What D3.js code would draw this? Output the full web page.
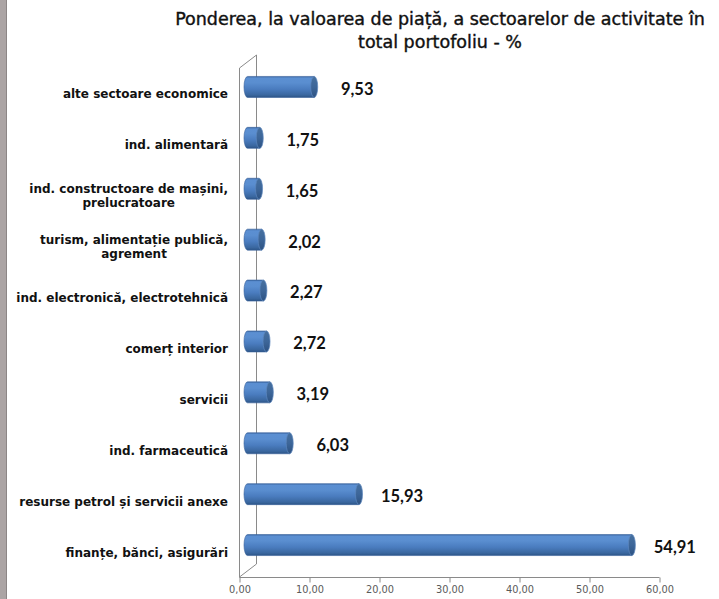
<!DOCTYPE html>
<html>
<head>
<meta charset="utf-8">
<script src="https://cdn.jsdelivr.net/npm/d3@7/dist/d3.min.js"></script>
<style>
  html, body { margin: 0; padding: 0; background: #fff; }
  svg { display: block; }
</style>
</head>
<body>
<svg id="chart" width="719" height="599"></svg>
<script>
// ---- data ----
const titleLines = ["Ponderea, la valoarea de piață, a sectoarelor de activitate în", "total portofoliu - %"];
const categories = [
  "alte sectoare economice",
  "ind. alimentară",
  "ind. constructoare de mașini,\nprelucratoare",
  "turism, alimentație publică,\nagrement",
  "ind. electronică, electrotehnică",
  "comerț interior",
  "servicii",
  "ind. farmaceutică",
  "resurse petrol și servicii anexe",
  "finanțe, bănci, asigurări"
];
const values = [9.53, 1.75, 1.65, 2.02, 2.27, 2.72, 3.19, 6.03, 15.93, 54.91];
const xTicks = [0, 10, 20, 30, 40, 50, 60];

// ---- layout ----
(function () {
const svg = d3.select("#chart");
const W = 719, H = 599;
const depthX = 17, depthY = -13;
const x = d3.scaleLinear().domain([0, 60]).range([239, 659]);
const y = d3.scaleBand().domain(categories).range([68, 577]).padding(0);
const bw = y.bandwidth();
const barH = 21;
const fmt = v => d3.format(".2f")(v).replace(".", ",");

// left gray strip
svg.append("rect").attr("x", 0).attr("y", 0).attr("width", 6).attr("height", H).attr("fill", "#aba4a4");
svg.append("rect").attr("x", 6).attr("y", 0).attr("width", 1).attr("height", H).attr("fill", "#8c8686");

// title
svg.append("text")
  .attr("x", 440).attr("y", 25)
  .attr("text-anchor", "middle")
  .style("font-family", "'DejaVu Sans', sans-serif")
  .style("font-size", "17.5px")
  .attr("fill", "#111")
  .attr("stroke", "#111").attr("stroke-width", 0.4)
  .selectAll("tspan").data(titleLines).join("tspan")
  .attr("x", 440).attr("dy", (d, i) => i === 0 ? 0 : 23)
  .text(d => d);

// gradient
const defs = svg.append("defs");
const grad = defs.append("linearGradient").attr("id", "cyl").attr("x1", 0).attr("y1", 0).attr("x2", 0).attr("y2", 1);
[[0, "#3f6ba6"], [0.08, "#5b8fd2"], [0.3, "#5a8ed0"], [0.6, "#4a7cbf"], [0.88, "#3a679f"], [1, "#2c5486"]]
  .forEach(([o, c]) => grad.append("stop").attr("offset", o).attr("stop-color", c));
const capGrad = defs.append("linearGradient").attr("id", "cap").attr("x1", 0).attr("y1", 0).attr("x2", 0).attr("y2", 1);
[[0, "#46709f"], [0.5, "#3d6699"], [1, "#2d5282"]]
  .forEach(([o, c]) => capGrad.append("stop").attr("offset", o).attr("stop-color", c));

// walls / axes
const axisColor = "#8a8a8a";
const x0 = x(0);
const yTop = y.range()[0], yBot = y.range()[1];
const walls = svg.append("g").attr("stroke", axisColor).attr("stroke-width", 1).attr("fill", "none");
walls.append("line").attr("x1", x0 + depthX + 0.5).attr("y1", yTop + depthY).attr("x2", x0 + depthX + 0.5).attr("y2", yBot + depthY);
walls.append("line").attr("x1", x0 + 0.5).attr("y1", yTop).attr("x2", x0 + depthX + 0.5).attr("y2", yTop + depthY);
walls.append("line").attr("x1", x0 + 0.5).attr("y1", yBot).attr("x2", x0 + depthX + 0.5).attr("y2", yBot + depthY);
walls.append("line").attr("x1", x0 + 0.5).attr("y1", yTop).attr("x2", x0 + 0.5).attr("y2", yBot + 0.5);

// x axis
const xAxis = d3.axisBottom(x).tickValues(xTicks).tickFormat(fmt).tickSize(5).tickPadding(4);
const gx = svg.append("g").attr("transform", `translate(0.5,${yBot + 0.5})`).call(xAxis);
gx.select(".domain").attr("stroke", axisColor).attr("d", `M${x(0)},0H${x(60)}`);
gx.selectAll(".tick line").attr("stroke", axisColor);
gx.selectAll(".tick text")
  .style("font-family", "'DejaVu Sans', sans-serif")
  .style("font-size", "9.8px")
  .attr("fill", "#5a5a5a");

// bars
const bars = svg.append("g");
categories.forEach((c, i) => {
  const v = values[i];
  const cy = y(c) + bw / 2 + depthY / 2;
  const xs = x(0) + depthX / 2;
  const xe = x(v) + depthX / 2;
  const rx = 3.5, ry = barH / 2;
  const g = bars.append("g");
  g.append("path")
    .attr("d", `M${xe},${cy - ry} L${xs},${cy - ry} A${rx},${ry} 0 0 0 ${xs},${cy + ry} L${xe},${cy + ry} Z`)
    .attr("fill", "url(#cyl)")
    .attr("stroke", "#35609a").attr("stroke-width", 0.6);
  g.append("ellipse")
    .attr("cx", xe).attr("cy", cy).attr("rx", rx).attr("ry", ry)
    .attr("fill", "url(#cap)")
    .attr("stroke", "#5d86bd").attr("stroke-width", 0.7);
  svg.append("text")
    .attr("x", xe + 43).attr("y", cy + 2).attr("dy", "0.36em")
    .attr("text-anchor", "middle")
    .style("font-family", "Lato, 'Open Sans', sans-serif")
    .style("font-weight", "bold")
    .style("font-size", "16.5px")
    .attr("fill", "#111")
    .text(fmt(v));
});

// category labels
const labelG = svg.append("g")
  .style("font-family", "'DejaVu Sans', sans-serif")
  .style("font-weight", "bold")
  .style("font-size", "12px")
  .attr("fill", "#111");
categories.forEach(c => {
  const lines = c.split("\n");
  const cy = y(c) + bw / 2;
  const t = labelG.append("text").attr("text-anchor", "middle");
  lines.forEach((ln, j) => {
    t.append("tspan").attr("x", 0).attr("y", cy + (j - (lines.length - 1) / 2) * 14 + 5).text(ln);
  });
  const wMax = d3.max(t.selectAll("tspan").nodes(), n => n.getComputedTextLength());
  t.selectAll("tspan").attr("x", 228 - wMax / 2);
});
})();
</script>
</body>
</html>
